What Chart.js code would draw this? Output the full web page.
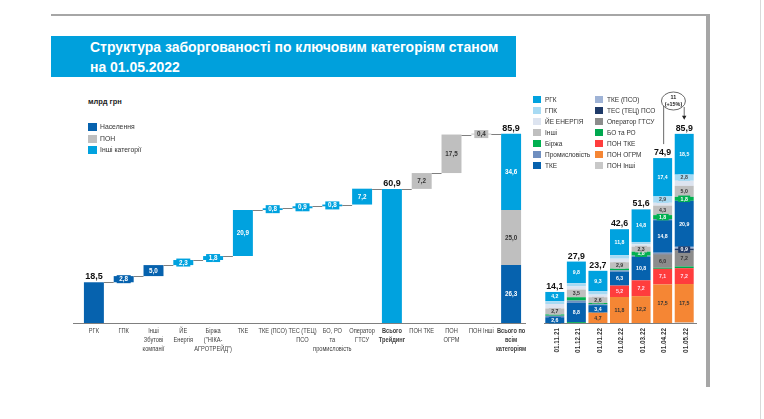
<!DOCTYPE html>
<html>
<head>
<meta charset="utf-8">
<script src="https://cdn.jsdelivr.net/npm/chart.js@4.4.0/dist/chart.umd.min.js"></script>
<style>
  body { margin: 0; width: 764px; height: 419px; background: #fff; position: relative; overflow: hidden; font-family: "Liberation Sans", Arial, sans-serif; }
  .frame-top { position: absolute; left: 51px; top: 14px; width: 659px; height: 2px; background: #a6a6a6; }
  .frame-right { position: absolute; left: 706px; top: 14px; width: 4px; height: 373px; background: #a6a6a6; }
  .edge { position: absolute; left: 760px; top: 0; width: 1px; height: 419px; background: #d9d9d9; }
  .title { position: absolute; left: 51px; top: 36px; width: 465px; height: 41px; background: #00a0dc; }
  .title div { position: absolute; left: 39px; color: #fff; font-weight: bold; font-size: 15.5px; white-space: nowrap; transform: scaleX(0.9); transform-origin: left top; }
  .unit { position: absolute; left: 88px; top: 97px; font-size: 7.5px; font-weight: bold; color: #222; }
  .lg { position: absolute; font-size: 6.5px; color: #333; white-space: nowrap; z-index: 2; }
  .lg i { position: absolute; left: -12px; top: 0; }
  canvas { position: absolute; }
</style>
</head>
<body>
<div class="frame-top"></div>
<div class="frame-right"></div>
<div class="edge"></div>
<div class="title">
  <div style="top:2px">Структура заборгованості по ключовим категоріям станом</div>
  <div style="top:22px">на 01.05.2022</div>
</div>
<div class="unit">млрд грн</div>
<div id="legendLeft"></div>
<div id="legendRight"></div>
<canvas id="waterfall" width="480" height="290" style="left:60px;top:83px"></canvas>
<canvas id="stacked" width="170" height="290" style="left:540px;top:83px"></canvas>
<script>
// ---- waterfall data ----
const wfLabels = [['РГК'], ['ГПК'], ['Інші', 'Збутові', 'компанії'], ['ЙЕ', 'Енергія'], ['Біржа', '("НІКА-', 'АГРОТРЕЙД")'],
  ['ТКЕ'], ['ТКЕ (ПСО)'], ['ТЕС (ТЕЦ)', 'ПСО'], ['БО, РО', 'та', 'промисловість'], ['Оператор', 'ГТСУ'],
  ['Всього', 'Трейдинг'], ['ПОН ТКЕ'], ['ПОН', 'ОГРМ'], ['ПОН Інші'], ['Всього по', 'всім', 'категоріям']];
const wfValues = [18.5, 2.8, 5.0, 2.3, 1.8, 20.9, 0.8, 0.9, 0.8, 7.2, 60.9, 7.2, 17.5, 0.4, 85.9];
const wfGroups = ['Населення', 'Населення', 'Населення', 'Інші категорії', 'Інші категорії', 'Інші категорії', 'Інші категорії',
  'Інші категорії', 'Інші категорії', 'Інші категорії', 'Інші категорії', 'ПОН', 'ПОН', 'ПОН', null];
const wfTotals = [10, 14];          // indexes of bars that start from zero
const wfAbove = [0, 10, 14];        // indexes labelled above the bar
const groupNames = ['Населення', 'ПОН', 'Інші категорії'];
const groupTotals = [26.3, 25.0, 34.6];   // breakdown of the last bar

// ---- stacked history data ----
const dates = ['01.11.21', '01.12.21', '01.01.22', '01.02.22', '01.03.22', '01.04.22', '01.05.22'];
const totals = [14.1, 27.9, 23.7, 42.6, 51.6, 74.9, 85.9];
const seriesNames = ['РГК', 'ГПК', 'ЙЕ ЕНЕРГІЯ', 'Інші', 'Біржа', 'Промисловість', 'ТКЕ',
  'ТКЕ (ПСО)', 'ТЕС (ТЕЦ) ПСО', 'Оператор ГТСУ', 'БО та РО', 'ПОН ТКЕ', 'ПОН ОГРМ', 'ПОН Інші'];
const rgk = [4.2, 9.8, 9.3, 11.8, 14.8, 17.4, 18.5];
const gpk = [1.3, 1.5, 1.5, 1.6, 1.1, 2.9, 2.8];
const yeEnergy = [2.0, 1.4, 1.2, 1.6, 1.0, 1.3, 2.3];
const inshi = [2.7, 3.5, 2.6, 2.9, 2.3, 4.3, 5.0];
const birzha = [0.6, 1.5, 0.6, 0.8, 1.8, 1.8, 1.8];
const prom = [0.7, 1.0, 0.4, 0.6, 0.4, 0.5, 0];
const tke = [2.6, 8.8, 3.4, 6.3, 10.8, 14.8, 20.9];
const tkePso = [0, 0, 0, 0, 0, 0.4, 0.8];
const tes = [0, 0, 0, 0, 0, 0.4, 0.9];
const gtsu = [0, 0, 0, 0, 0, 6.0, 7.2];
const boRo = [0, 0.4, 0, 0, 0, 0.5, 0.8];
const ponTke = [0, 0, 0, 5.2, 7.2, 7.1, 7.2];
const ponOgrm = [0, 0, 4.7, 11.8, 12.2, 17.5, 17.5];
const ponInshi = [0, 0, 0, 0, 0, 0, 0.2];
const seriesValues = [rgk, gpk, yeEnergy, inshi, birzha, prom, tke, tkePso, tes, gtsu, boRo, ponTke, ponOgrm, ponInshi];
const growthText = ['11', '(+15%)'];

// ---- styles ----
const groupColors = { 'Населення': '#0662ae', 'ПОН': '#bfbfbf', 'Інші категорії': '#00a2df' };
const groupText = { 'Населення': '#fff', 'ПОН': '#333', 'Інші категорії': '#fff' };
const seriesColors = ['#00a2df', '#a7daf3', '#dde4f0', '#bfbfbf', '#00b050', '#6f8fc0', '#0662ae',
  '#9fb3d6', '#1f3a68', '#8c8c8c', '#00a84f', '#ff3d3d', '#f58634', '#c8c8c8'];
const seriesTextColors = ['#fff', '#444', '#444', '#333', '#fff', '#fff', '#fff',
  '#fff', '#fff', '#333', '#fff', '#fde', '#333', '#333'];
const seriesLabelMin = [1.8, 2.5, Infinity, 1.8, 1.8, Infinity, 1.8, Infinity, 0.9, 1.8, Infinity, 1.8, 1.8, Infinity];
const FONT = '"Liberation Sans", Arial, sans-serif';
const fmt = v => v.toFixed(1).replace('.', ',');

// ---- legends (html) ----
const legL = document.getElementById('legendLeft');
groupNames.forEach((g, k) => {
  const d = document.createElement('div');
  d.className = 'lg';
  d.style.left = '100px'; d.style.top = (123 + k * 11.5) + 'px'; d.style.fontSize = '6.8px';
  d.innerHTML = '<i style="width:9px;height:8px;background:' + groupColors[g] + '"></i>' + g;
  legL.appendChild(d);
});
const legR = document.getElementById('legendRight');
seriesNames.forEach((n, k) => {
  const col = Math.floor(k / 7), row = k % 7;
  const d = document.createElement('div');
  d.className = 'lg';
  d.style.left = (col ? 607 : 545) + 'px'; d.style.top = (96 + row * 11) + 'px';
  d.innerHTML = '<i style="width:8px;height:7px;background:' + seriesColors[k] + '"></i>' + n;
  legR.appendChild(d);
});

// ---- waterfall spans ----
const spans = [];
let run = 0;
wfValues.forEach((v, i) => {
  if (wfTotals.includes(i)) { spans.push([0, v]); }
  else { spans.push([run, run + v]); }
  run = spans[i][1];
});
const last = wfValues.length - 1;
const wfDatasets = groupNames.map((g, k) => {
  const data = wfValues.map((v, i) => {
    if (i === last) {
      const lo = groupTotals.slice(0, k).reduce((a, b) => a + b, 0);
      return [lo, lo + groupTotals[k]];
    }
    return wfGroups[i] === g ? spans[i] : null;
  });
  return { label: g, data, backgroundColor: groupColors[g], grouped: false, categoryPercentage: 1, barPercentage: 0.67 };
});

function barAt(chart, i) {
  for (let d = 0; d < chart.data.datasets.length; d++) {
    if (chart.data.datasets[d].data[i] !== null) return chart.getDatasetMeta(d).data[i];
  }
}

function tabLabel(ctx, x, yc, txt, bg, fg, w, h, size) {
  ctx.fillStyle = bg;
  ctx.fillRect(x - w / 2, yc - h / 2, w, h);
  ctx.fillStyle = fg;
  ctx.font = 'bold ' + size + 'px ' + FONT;
  ctx.textAlign = 'center'; ctx.textBaseline = 'middle';
  ctx.fillText(txt, x, yc + 0.3);
}

// narrow text, the original uses a condensed face
function narrowText(ctx, t, x, y, sx) {
  ctx.save();
  ctx.translate(x, y);
  ctx.scale(sx, 1);
  ctx.fillText(t, 0, 0);
  ctx.restore();
}

const waterfallDecor = {
  id: 'waterfallDecor',
  afterDatasetsDraw(chart) {
    const { ctx, chartArea, scales: { x, y } } = chart;
    ctx.save();
    ctx.strokeStyle = '#7f7f7f'; ctx.lineWidth = 1;
    ctx.beginPath();
    ctx.moveTo(chartArea.left - 6, chartArea.bottom + 0.5); ctx.lineTo(chartArea.right, chartArea.bottom + 0.5);
    ctx.stroke();
    // connectors
    for (let i = 0; i < last; i++) {
      const a = barAt(chart, i), b = barAt(chart, i + 1);
      const yy = Math.round(y.getPixelForValue(spans[i][1])) + 0.5;
      ctx.beginPath(); ctx.moveTo(a.x + a.width / 2, yy); ctx.lineTo(b.x - b.width / 2, yy); ctx.stroke();
    }
    // inside labels
    chart.data.datasets.forEach((ds, d) => {
      chart.getDatasetMeta(d).data.forEach((el, i) => {
        const span = ds.data[i];
        if (span === null || (wfAbove.includes(i) && i !== last)) return;
        tabLabel(ctx, el.x, (el.y + el.base) / 2, fmt(span[1] - span[0]), ds.backgroundColor,
          groupText[ds.label], 14, 8, 6.3);
      });
    });
    // labels above
    ctx.fillStyle = '#111'; ctx.font = 'bold 9px ' + FONT;
    ctx.textAlign = 'center'; ctx.textBaseline = 'alphabetic';
    wfAbove.forEach(i => {
      const el = barAt(chart, i);
      ctx.fillText(fmt(wfValues[i]), el.x, y.getPixelForValue(wfValues[i]) - 3);
    });
    // category labels
    ctx.fillStyle = '#404040';
    ctx.textBaseline = 'top';
    wfLabels.forEach((lines, i) => {
      const bold = wfTotals.includes(i);
      ctx.font = (bold ? 'bold ' : '') + '6.6px ' + FONT;
      lines.forEach((t, k) => narrowText(ctx, t, x.getPixelForValue(i), chartArea.bottom + 5 + k * 8.8, 0.86));
    });
    ctx.restore();
  }
};

new Chart(document.getElementById('waterfall'), {
  type: 'bar',
  data: { labels: wfLabels.map(l => l.join(' ')), datasets: wfDatasets },
  options: {
    responsive: false, animation: false,
    layout: { padding: { left: 19, right: 14, top: 0, bottom: 50 } },
    plugins: { legend: { display: false }, tooltip: { enabled: false } },
    scales: {
      x: { display: false },
      y: { display: false, min: 0, max: 109 }
    }
  },
  plugins: [waterfallDecor]
});

// ---- stacked chart ----
const stackDatasets = seriesNames.map((n, k) => ({
  label: n, data: seriesValues[k], backgroundColor: seriesColors[k],
  labelMin: seriesLabelMin[k], labelColor: seriesTextColors[k],
  categoryPercentage: 1, barPercentage: 0.88
})).reverse();

const stackDecor = {
  id: 'stackDecor',
  afterDatasetsDraw(chart) {
    const { ctx, chartArea, scales: { x, y } } = chart;
    ctx.save();
    ctx.strokeStyle = '#7f7f7f'; ctx.lineWidth = 1;
    ctx.beginPath();
    ctx.moveTo(chartArea.left, chartArea.bottom + 0.5); ctx.lineTo(chartArea.right + 2, chartArea.bottom + 0.5);
    ctx.stroke();
    // segment labels
    chart.data.datasets.forEach((ds, d) => {
      chart.getDatasetMeta(d).data.forEach((el, i) => {
        const v = ds.data[i];
        if (!(v >= ds.labelMin)) return;
        tabLabel(ctx, el.x, (el.y + el.base) / 2, fmt(v), ds.backgroundColor, ds.labelColor, 12, 6.5, 5.2);
      });
    });
    // totals
    ctx.fillStyle = '#111'; ctx.font = 'bold 8.8px ' + FONT;
    ctx.textAlign = 'center'; ctx.textBaseline = 'alphabetic';
    totals.forEach((t, i) => ctx.fillText(fmt(t), x.getPixelForValue(i), y.getPixelForValue(t) - 3));
    // date ticks
    ctx.fillStyle = '#333'; ctx.font = 'bold 6.4px ' + FONT;
    dates.forEach((t, i) => {
      ctx.save();
      ctx.translate(x.getPixelForValue(i) + 2, chartArea.bottom + 5);
      ctx.rotate(-Math.PI / 2);
      ctx.textAlign = 'right'; ctx.textBaseline = 'middle';
      ctx.fillText(t, 0, 0);
      ctx.restore();
    });
    // growth annotation between the last two months
    const n = dates.length;
    const xa = x.getPixelForValue(n - 2), xb = x.getPixelForValue(n - 1);
    const cx = (xa + xb) / 2, cy = 18;
    ctx.strokeStyle = '#444'; ctx.lineWidth = 0.8;
    ctx.beginPath(); ctx.ellipse(cx, cy, 12, 9, 0, 0, Math.PI * 2); ctx.stroke();
    ctx.beginPath(); ctx.moveTo(xa + 1, cy + 5); ctx.lineTo(xa + 1, y.getPixelForValue(totals[n - 2]) - 14); ctx.stroke();
    const tipY = y.getPixelForValue(totals[n - 1]) - 14;
    ctx.beginPath(); ctx.moveTo(xb, cy + 6); ctx.lineTo(xb, tipY - 3); ctx.stroke();
    ctx.fillStyle = '#222';
    ctx.beginPath(); ctx.moveTo(xb - 2.2, tipY - 4); ctx.lineTo(xb + 2.2, tipY - 4); ctx.lineTo(xb, tipY); ctx.closePath(); ctx.fill();
    ctx.font = 'bold 5.4px ' + FONT; ctx.textAlign = 'center'; ctx.textBaseline = 'middle';
    ctx.fillText(growthText[0], cx, cy - 3);
    ctx.fillText(growthText[1], cx, cy + 3.5);
    ctx.restore();
  }
};

new Chart(document.getElementById('stacked'), {
  type: 'bar',
  data: { labels: dates, datasets: stackDatasets },
  options: {
    responsive: false, animation: false,
    layout: { padding: { left: 4, right: 15, top: 0, bottom: 50 } },
    plugins: { legend: { display: false }, tooltip: { enabled: false } },
    scales: {
      x: { display: false, stacked: true },
      y: { display: false, stacked: true, min: 0, max: 109 }
    }
  },
  plugins: [stackDecor]
});
</script>
</body>
</html>
